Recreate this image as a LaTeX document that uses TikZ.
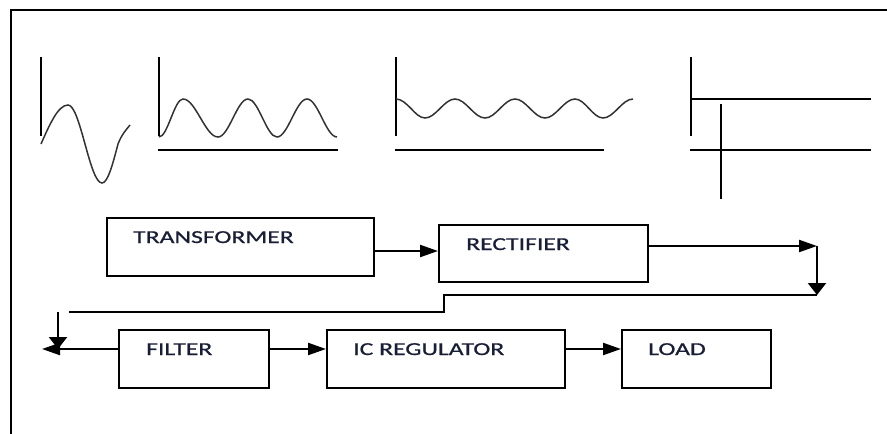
\documentclass[tikz,border=0pt]{standalone}
\usepackage{fontspec}
\newfontfamily\lblfont{Carlito}[FakeStretch=1.41,FakeBold=0.8]
\usetikzlibrary{arrows.meta}
\definecolor{txt}{RGB}{25,30,55}
\definecolor{wavec}{RGB}{50,50,50}
\begin{document}
\begin{tikzpicture}[x=1pt,y=-1pt,
  blk/.style={draw, line width=2.4pt, inner sep=0pt, anchor=north west},
  lbl/.style={inner sep=0pt, anchor=base west, text=txt, font=\lblfont\fontsize{18.2}{20}\selectfont},
  conn/.style={line width=2.2pt},
  harr/.style={conn, -{Triangle[length=18pt,width=12pt]}},
  varr/.style={conn, -{Triangle[length=12pt,width=18pt]}},
  axisv/.style={line width=2.6pt},
  axish/.style={line width=2.2pt},
  wave/.style={line width=1.5pt, draw=wavec}]
\useasboundingbox (0,0) rectangle (887,434);
% frame
\draw[line width=2.2pt] (11,434) -- (11,10) -- (887,10);

% waveform 1 (AC input)
\draw[axisv] (41,57) -- (41,136);
\draw[wave] (41,144) sin (68,105) cos (85,144) sin (102,183) cos (118,144)
  .. controls (122,134) and (126,130) .. (130,125);

% waveform 2 (rectified)
\draw[axisv] (159,57) -- (159,136);
\draw[axish] (158,150) -- (338,150);
\draw[wave] (159,137) cos (171,118) sin (183,99) cos (200.5,118) sin (218,137)
  cos (233,118) sin (248,99) cos (262.5,118) sin (277,137)
  cos (292,118) sin (307,99) cos (322,118) sin (337,137);

% waveform 3 (filtered)
\draw[axisv] (396,57) -- (396,136);
\draw[axish] (395,150) -- (604,150);
\draw[wave] (396,99) cos (411,108.5) sin (425,118) cos (440,108.5) sin (455,99)
  cos (470,108.5) sin (485,118) cos (500,108.5) sin (515,99)
  cos (530,108.5) sin (545,118) cos (560,108.5) sin (575,99)
  cos (589,108.5) sin (603,118) cos (618,108.5) sin (633,99);

% waveform 4 (regulated DC)
\draw[axisv] (691,57) -- (691,136);
\draw[axish] (691,99) -- (871,99);
\draw[axish] (690,150) -- (871,150);
\draw[axish] (721,104) -- (721,199);

% blocks
\node[blk, minimum width=267pt, minimum height=58pt] (tr) at (106,217) {};
\node[lbl] (trt) at ([shift={(27,26)}]tr.north west) {TRANSFORMER};
\node[blk, minimum width=209pt, minimum height=57pt] (rc) at (438,224) {};
\node[lbl] (rct) at ([shift={(28,26)}]rc.north west) {RECTIFIER};
\node[blk, minimum width=150pt, minimum height=58pt] (fl) at (118,329) {};
\node[lbl] (flt) at ([shift={(28,26)}]fl.north west) {FILTER};
\node[blk, minimum width=238pt, minimum height=58pt] (ic) at (326,329) {};
\node[lbl] (ict) at ([shift={(27,26)}]ic.north west) {IC REGULATOR};
\node[blk, minimum width=149pt, minimum height=58pt] (ld) at (621,329) {};
\node[lbl] (ldt) at ([shift={(27,26)}]ld.north west) {LOAD};

% connectors
\coordinate (a1) at (0,251);
\draw[harr] (tr.east |- a1) -- (rc.west |- a1);
\coordinate (c1) at (817,246);
\coordinate (c2) at (817,295);
\coordinate (c3) at (444,295);
\coordinate (c4) at (444,312);
\coordinate (c5) at (69,312);
\draw[harr] (rc.east |- c1) -- (c1);
\draw[varr] (c1) -- (c2);
\draw[conn] (c2) -- (c3) -- (c4) -- (c5);
\coordinate (c6) at (58,312);
\coordinate (c7) at (58,349);
\draw[varr] (c6) -- (c7);
\coordinate (c8) at (42,349);
\draw[harr] (fl.west |- c8) -- (c8);
\draw[harr] (fl.east |- c8) -- (ic.west |- c8);
\draw[harr] (ic.east |- c8) -- (ld.west |- c8);
\end{tikzpicture}
\end{document}
